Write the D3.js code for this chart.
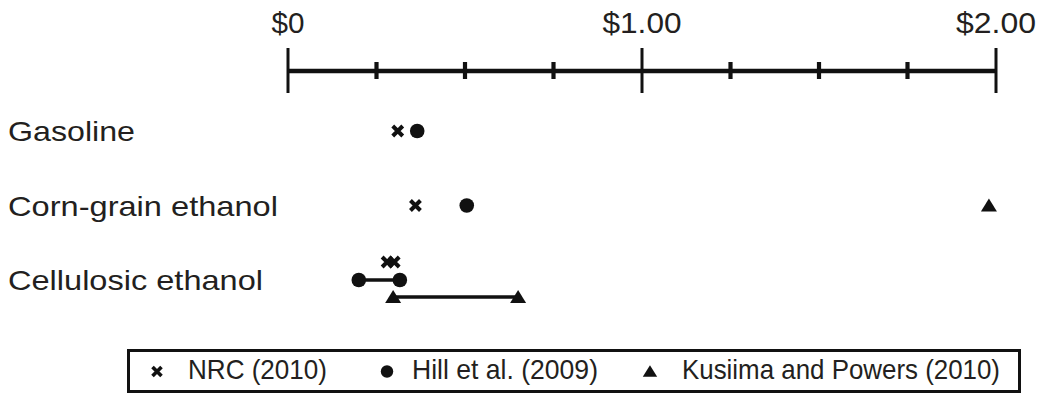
<!DOCTYPE html>
<html>
<head>
<meta charset="utf-8">
<script src="https://cdn.jsdelivr.net/npm/d3@7/dist/d3.min.js"></script>
<style>
  html, body { margin: 0; padding: 0; background: #fff; }
  svg { display: block; }
  text { font-family: "Liberation Sans", Arial, Helvetica, sans-serif; fill: #231f20; }
</style>
</head>
<body>
<svg id="chart" width="1043" height="393"></svg>
<script>
// ---- data ----
const categories = ["Gasoline", "Corn-grain ethanol", "Cellulosic ethanol"];
const seriesNames = ["NRC (2010)", "Hill et al. (2009)", "Kusiima and Powers (2010)"];
const seriesShapes = ["cross", "circle", "triangle"];
// values per category (one value = point estimate, two values = range)
const nrcValues      = [[0.31], [0.36], [0.28, 0.30]];
const hillValues     = [[0.365], [0.505], [0.20, 0.316]];
const kusiimaValues  = [[], [1.98], [0.297, 0.65]];
const tickValues = [0, 1, 2];
const tickLabels = ["$0", "$1.00", "$2.00"];
const minorStep = 0.25;

const allSeries = [nrcValues, hillValues, kusiimaValues];

// ---- layout ----
const svg = d3.select("#chart");
const x = d3.scaleLinear().domain([0, 2]).range([288, 996]);
const y = d3.scalePoint().domain(categories).range([131, 280]);
const axisY = 71;
const ink = "#111";

// axis line
const axisG = svg.append("g");
axisG.append("line")
  .attr("x1", x(0)).attr("x2", x(2))
  .attr("y1", axisY).attr("y2", axisY)
  .attr("stroke", ink).attr("stroke-width", 4.5);

const minorTicks = d3.range(0, 2 + 1e-9, minorStep).filter(v => !tickValues.includes(v));
axisG.selectAll(".minor").data(minorTicks).enter().append("line")
  .attr("x1", d => x(d)).attr("x2", d => x(d))
  .attr("y1", axisY - 9).attr("y2", axisY + 8)
  .attr("stroke", ink).attr("stroke-width", 4.2);
axisG.selectAll(".major").data(tickValues).enter().append("line")
  .attr("x1", d => x(d)).attr("x2", d => x(d))
  .attr("y1", axisY - 23).attr("y2", axisY + 22)
  .attr("stroke", ink).attr("stroke-width", 3);
const labelLens = [33, 79, 80];
axisG.selectAll(".tl").data(tickValues).enter().append("text")
  .attr("x", d => x(d)).attr("y", 33)
  .attr("text-anchor", "middle")
  .attr("font-size", 29.5)
  .attr("textLength", (d, i) => labelLens[i])
  .attr("lengthAdjust", "spacingAndGlyphs")
  .text((d, i) => tickLabels[i]);

// category labels
const catLens = [127, 270, 255];
svg.selectAll(".cat").data(categories).enter().append("text")
  .attr("x", 8).attr("y", d => y(d) + 10)
  .attr("font-size", 28)
  .attr("textLength", (d, i) => catLens[i])
  .attr("lengthAdjust", "spacingAndGlyphs")
  .text(d => d);

// marker drawing
function drawMarker(g, shape, cx, cy, s) {
  if (shape === "cross") {
    const h = 5 * s;
    g.append("path")
      .attr("d", `M${cx - h},${cy - h}L${cx + h},${cy + h}M${cx - h},${cy + h}L${cx + h},${cy - h}`)
      .attr("stroke", ink).attr("stroke-width", 4 * s).attr("fill", "none");
  } else if (shape === "circle") {
    g.append("circle").attr("cx", cx).attr("cy", cy).attr("r", 7.3 * s).attr("fill", ink);
  } else {
    const w = 8 * s, hh = 7 * s;
    g.append("path")
      .attr("d", `M${cx},${cy - hh}L${cx + w},${cy + hh - 1}L${cx - w},${cy + hh - 1}Z`)
      .attr("fill", ink);
  }
}

// row offsets when a category has range series
const rangeOffsets = [-18, 0, 17];
const plotG = svg.append("g");
categories.forEach((cat, ci) => {
  const hasRange = allSeries.some(s => s[ci].length > 1);
  allSeries.forEach((s, si) => {
    const vals = s[ci];
    if (!vals.length) return;
    const cy = y(cat) + (hasRange ? rangeOffsets[si] : 0);
    if (vals.length > 1) {
      plotG.append("line")
        .attr("x1", x(d3.min(vals))).attr("x2", x(d3.max(vals)))
        .attr("y1", cy).attr("y2", cy)
        .attr("stroke", ink).attr("stroke-width", 3.5);
    }
    vals.forEach(v => drawMarker(plotG, seriesShapes[si], x(v), cy, 1));
  });
});

// legend
const legG = svg.append("g");
legG.append("rect")
  .attr("x", 128.5).attr("y", 350.5).attr("width", 891).attr("height", 41)
  .attr("fill", "none").attr("stroke", ink).attr("stroke-width", 3);
const legMarkX = [157, 387, 650];
const legTextX = [188, 412, 682];
const legTextLen = [139, 186, 318];
seriesNames.forEach((name, i) => {
  const cy = 371.5;
  drawMarker(legG, seriesShapes[i], legMarkX[i], cy, seriesShapes[i] === "circle" ? 0.85 : 0.9);
  legG.append("text")
    .attr("x", legTextX[i]).attr("y", 378.5)
    .attr("font-size", 28)
    .attr("textLength", legTextLen[i])
    .attr("lengthAdjust", "spacingAndGlyphs")
    .text(name);
});
</script>
</body>
</html>
